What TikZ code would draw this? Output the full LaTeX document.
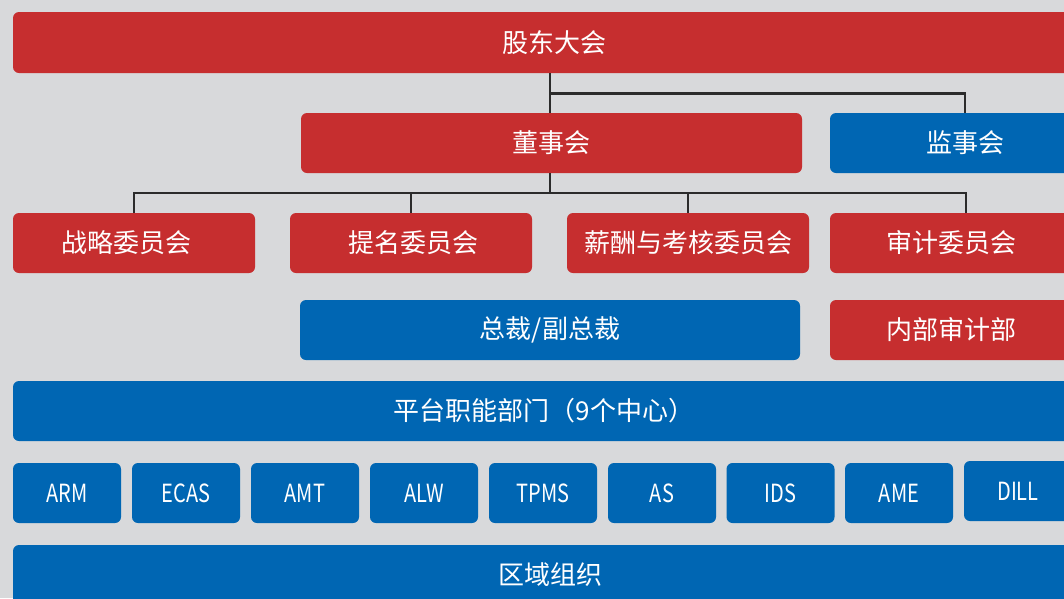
\documentclass[tikz,border=0pt]{standalone}
\usepackage{fontspec}
\setmainfont{Noto Sans CJK SC}
\newfontfamily\latf[FakeStretch=0.8]{Noto Sans CJK SC}
\definecolor{bg}{HTML}{D8D9DB}
\definecolor{rbox}{HTML}{C62E2F}
\definecolor{bbox}{HTML}{0066B3}
\definecolor{lnc}{HTML}{2B2B2B}
\tikzset{
  box/.style={rounded corners=6pt, inner sep=0pt, text=white, font=\fontsize{26}{30}\selectfont, minimum height=60pt, anchor=center},
  redbox/.style={box, fill=rbox},
  bluebox/.style={box, fill=bbox},
  smallbox/.style={bluebox, minimum width=108pt, font=\fontsize{25}{30}\selectfont\latf},
  conn/.style={draw=lnc, line width=2.6pt}
}
\begin{document}
\begin{tikzpicture}[x=1pt,y=1pt]
\useasboundingbox (0,0) rectangle (1064,-598);
\fill[bg] (0,0) rectangle (1064,-598);
\clip (0,0) rectangle (1064,-598);
% top
\node[redbox, minimum width=1082pt, minimum height=61pt] (gd) at (554,-42.5) {股东大会};
\node[redbox, minimum width=501pt] (dsh) at (551.5,-143) {董事会};
\node[bluebox, minimum width=270pt] (jsh) at (965,-143) {监事会};
% committees
\node[redbox, minimum width=242pt] (zl) at (134,-243) {\hspace*{-16pt}战略委员会};
\node[redbox, minimum width=242pt] (tm) at (411,-243) {\hspace*{4pt}提名委员会};
\node[redbox, minimum width=242pt] (xc) at (688,-243) {薪酬与考核委员会};
\node[redbox, minimum width=242pt] (sj) at (951,-243) {审计委员会};
% management
\node[bluebox, minimum width=500pt] (zc) at (550,-330) {总裁/副总裁};
\node[redbox, minimum width=242pt] (nb) at (951,-330) {内部审计部};
\node[bluebox, minimum width=1062pt] (pt) at (544,-411) {平台职能部门（9个中心）};
% centers
\node[smallbox] (arm) at (67,-493) {ARM};
\node[smallbox] (ecas) at (186,-493) {ECAS};
\node[smallbox] (amt) at (305,-493) {AMT};
\node[smallbox] (alw) at (424,-493) {ALW};
\node[smallbox] (tpms) at (543,-493) {TPMS};
\node[smallbox] (as) at (662,-493) {AS};
\node[smallbox] (ids) at (780.5,-493) {IDS};
\node[smallbox] (ame) at (899,-493) {AME};
\node[smallbox] (dill) at (1018,-491) {DILL};
% region
\node[bluebox, minimum width=1074pt] (qy) at (550,-575) {区域组织};
% connectors
\coordinate (j1) at (550,-93.3);
\coordinate (j2) at (550,-193);
\coordinate (sjtop) at ([xshift=15pt]sj.north);
\draw[conn] (j1 |- gd.south) -- (j1 |- dsh.north);
\draw[conn] (j1) -| (jsh.north);
\draw[conn] (j1 |- dsh.south) -- (j2);
\draw[conn] (zl.north) |- (sjtop |- j2) -- (sjtop);
\draw[conn] (tm.north) -- (tm.north |- j2);
\draw[conn] (xc.north) -- (xc.north |- j2);
\end{tikzpicture}
\end{document}
